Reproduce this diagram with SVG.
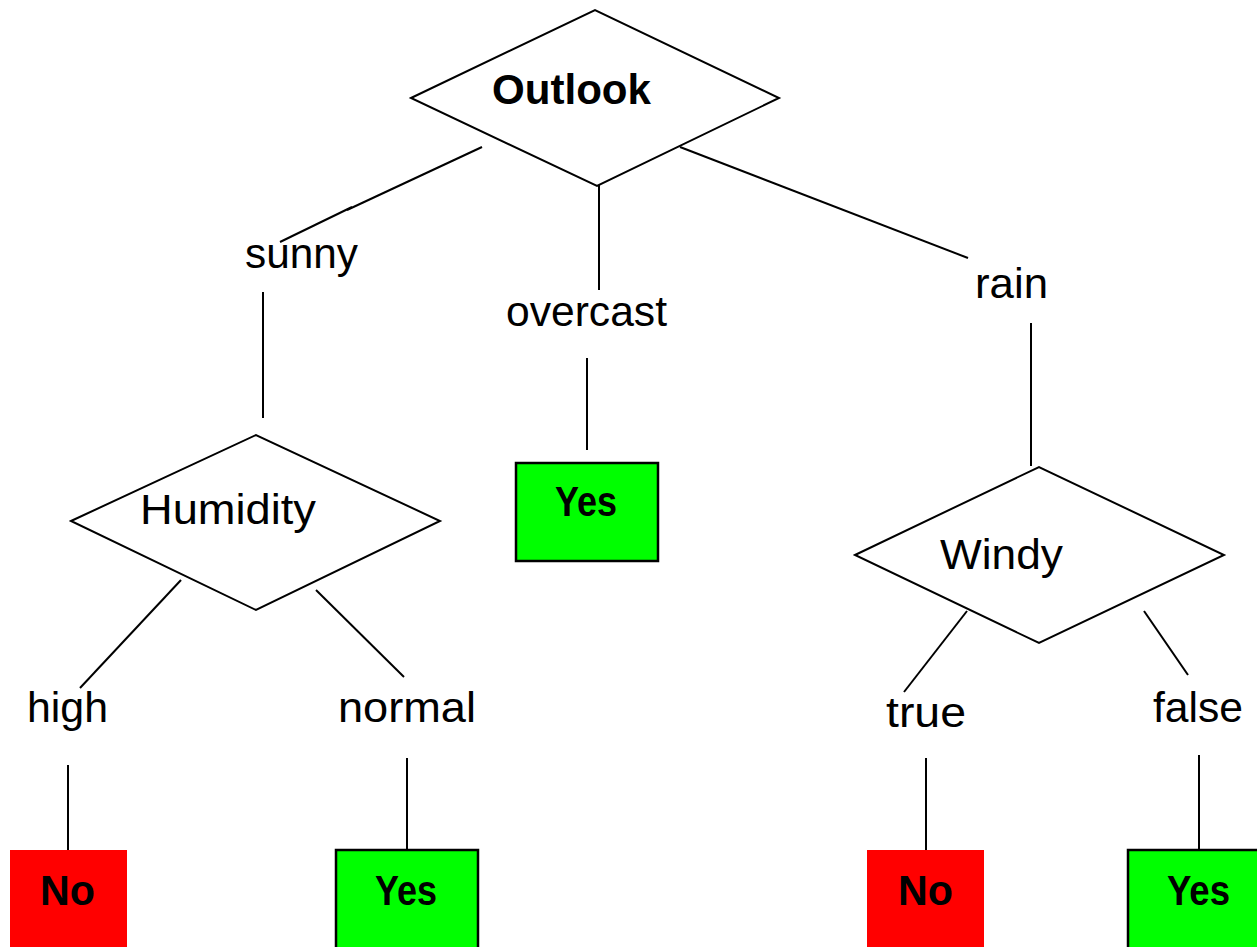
<svg xmlns="http://www.w3.org/2000/svg" width="1257" height="947" viewBox="0 0 1257 947">
<style>
.d{fill:#fff;stroke:#000;stroke-width:2}
.t{font-family:"Liberation Sans",Arial,sans-serif;font-size:42px;fill:#000}
.b{font-weight:bold}
.yes{fill:#00ff00;stroke:#000;stroke-width:2.5}
.no{fill:#ff0000}
#connectors line{stroke:#000;stroke-width:2}
</style>
<rect width="1257" height="947" fill="#fff"/>
<g id="connectors">
<line x1="482" y1="147" x2="347" y2="210"/>
<line x1="352" y1="207" x2="280" y2="242"/>
<line x1="599" y1="180" x2="599" y2="290"/>
<line x1="680" y1="147" x2="968" y2="258"/>
<line x1="263" y1="292" x2="263" y2="418"/>
<line x1="587" y1="358" x2="587" y2="450"/>
<line x1="1031" y1="323" x2="1031" y2="466"/>
<line x1="181" y1="580" x2="80" y2="688"/>
<line x1="316" y1="590" x2="404" y2="677"/>
<line x1="967" y1="611" x2="904" y2="692"/>
<line x1="1144" y1="611" x2="1188" y2="675"/>
<line x1="68" y1="765" x2="68" y2="850"/>
<line x1="407" y1="758" x2="407" y2="849"/>
<line x1="926" y1="758" x2="926" y2="850"/>
<line x1="1199" y1="755" x2="1199" y2="849"/>
</g>
<g id="outlook">
<polygon class="d" points="411,98 595,10 779,98 597,186"/>
<text class="t b" x="492" y="104" textLength="159" lengthAdjust="spacingAndGlyphs">Outlook</text>
</g>
<g id="label-sunny"><text class="t" x="245" y="268" textLength="113" lengthAdjust="spacingAndGlyphs">sunny</text></g>
<g id="label-overcast"><text class="t" x="506" y="326" textLength="161" lengthAdjust="spacingAndGlyphs">overcast</text></g>
<g id="label-rain"><text class="t" x="975" y="298" textLength="73" lengthAdjust="spacingAndGlyphs">rain</text></g>
<g id="humidity">
<polygon class="d" points="71,521 256,435 440,521 256,610"/>
<text class="t" x="140" y="524" textLength="176" lengthAdjust="spacingAndGlyphs">Humidity</text>
</g>
<g id="yes-overcast">
<rect class="yes" x="516" y="463" width="142" height="98"/>
<text class="t b" x="555" y="516" textLength="62" lengthAdjust="spacingAndGlyphs">Yes</text>
</g>
<g id="windy">
<polygon class="d" points="855,555 1039,467 1224,555 1039,643"/>
<text class="t" x="940" y="569" textLength="123" lengthAdjust="spacingAndGlyphs">Windy</text>
</g>
<g id="label-high"><text class="t" x="27" y="722" textLength="81" lengthAdjust="spacingAndGlyphs">high</text></g>
<g id="label-normal"><text class="t" x="338" y="722" textLength="138" lengthAdjust="spacingAndGlyphs">normal</text></g>
<g id="label-true"><text class="t" x="886" y="727" textLength="80" lengthAdjust="spacingAndGlyphs">true</text></g>
<g id="label-false"><text class="t" x="1153" y="722" textLength="90" lengthAdjust="spacingAndGlyphs">false</text></g>
<g id="no-high">
<rect class="no" x="10" y="850" width="117" height="97"/>
<text class="t b" x="40" y="905" textLength="55" lengthAdjust="spacingAndGlyphs">No</text>
</g>
<g id="yes-normal">
<rect class="yes" x="336" y="850" width="142" height="100"/>
<text class="t b" x="375" y="905" textLength="62" lengthAdjust="spacingAndGlyphs">Yes</text>
</g>
<g id="no-true">
<rect class="no" x="867" y="850" width="117" height="97"/>
<text class="t b" x="898" y="905" textLength="55" lengthAdjust="spacingAndGlyphs">No</text>
</g>
<g id="yes-false">
<rect class="yes" x="1128" y="850" width="142" height="100"/>
<text class="t b" x="1167" y="905" textLength="63" lengthAdjust="spacingAndGlyphs">Yes</text>
</g>
</svg>
